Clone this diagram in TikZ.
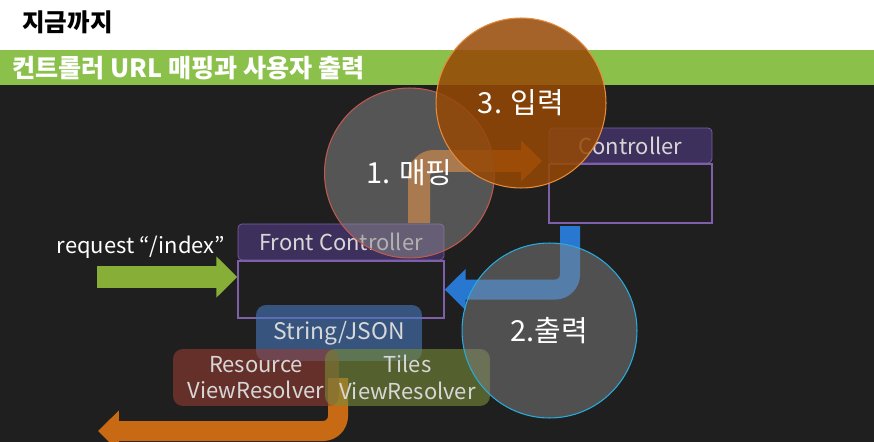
\documentclass[tikz,border=0pt]{standalone}
\usepackage{fontspec}
\setmainfont{Noto Sans CJK KR}
\usetikzlibrary{arrows.meta}
\definecolor{slidebg}{RGB}{31,31,31}
\definecolor{bandgreen}{RGB}{139,192,74}
\definecolor{boxfill}{RGB}{62,48,92}
\definecolor{boxline}{RGB}{125,95,170}
\definecolor{headtext}{RGB}{215,215,215}
\definecolor{reqgreen}{RGB}{135,175,55}
\definecolor{maporange}{RGB}{200,105,20}
\definecolor{outblue}{RGB}{40,120,210}
\definecolor{jsonblue}{RGB}{70,120,190}
\definecolor{resred}{RGB}{150,60,50}
\definecolor{tilesgreen}{RGB}{120,140,55}

\begin{document}
\begin{tikzpicture}[x=0.02cm, y=-0.02cm,
    every node/.style={inner sep=0pt, font=\fontsize{12.5}{15}\selectfont},
    boxhead/.style={draw=boxline, fill=boxfill, rounded corners=0.08cm, text=headtext},
    boxbody/.style={draw=boxline, line width=0.8pt},
    resolver/.style={rounded corners=0.2cm, fill opacity=0.6, text opacity=1, text=headtext,
      align=center, minimum width=3.32cm, minimum height=1.14cm},
    bubble/.style={circle, minimum size=3.4cm, line width=0.6pt, fill opacity=0.5, text opacity=1,
      text=white, font=\fontsize{16.5}{20}\selectfont},
    fat/.style={line width=0.42cm, rounded corners=0.3cm,
      -{Triangle[length=0.42cm, width=0.8cm]}}
  ]
  \useasboundingbox (0,0) rectangle (874,442);
  % Slide background
  \fill[white] (0,0) rectangle (874,50);
  \fill[bandgreen] (0,50) rectangle (874,85);
  \fill[slidebg] (0,85) rectangle (874,442);
  \node[font=\fontsize{14}{16}\selectfont\bfseries, anchor=west] (title) at (22,22) {지금까지};
  \node[font=\fontsize{14.3}{16}\selectfont\bfseries, text=white, anchor=west] (band) at (12,68) {컨트롤러 URL 매핑과 사용자 출력};

  % Boxes
  \node[boxhead, minimum width=3.26cm, minimum height=0.7cm] (ctrlHead) at (630.5,145.5) {Controller};
  \node[boxbody, minimum width=3.26cm, minimum height=1.18cm, anchor=north] (ctrlBody) at (ctrlHead.south) {};
  \node[boxhead, minimum width=4.12cm, minimum height=0.72cm] (fcHead) at (341,242) {Front Controller};
  \node[boxbody, minimum width=4.12cm, minimum height=1.14cm, anchor=north] (fcBody) at (fcHead.south) {};

  % Arrows
  \coordinate (reqFrom) at (97,277);
  \coordinate (mapFrom) at (419,223);
  \coordinate (mapTo) at (542,161);
  \coordinate (outFrom) at (570,226);
  \coordinate (viewFrom) at (338,378);
  \coordinate (viewTo) at (98,431);
  \draw[fat, reqgreen, line width=0.44cm, rounded corners=0pt] (reqFrom) -- (reqFrom -| fcBody.west);
  \draw[fat, maporange, line width=0.44cm] (mapFrom) |- (mapTo);
  \draw[fat, outblue, line width=0.4cm] (outFrom) |- (fcBody.east);
  \draw[fat, maporange, line width=0.4cm] (viewFrom) |- (viewTo);

  % Resolvers
  \node[resolver, fill=jsonblue, minimum height=1.12cm, font=\fontsize{13}{15}\selectfont] (json) at (339,333) {String/JSON};
  \node[resolver, fill=resred] (resource) at (256,377.5) {Resource\\ViewResolver};
  \node[resolver, fill=tilesgreen, minimum width=3.3cm] (tiles) at (407.5,377.5) {Tiles\\ViewResolver};

  % Steps
  \node[bubble, draw={rgb,255:red,190;green,90;blue,80}, fill={rgb,255:red,140;green,140;blue,140}] (mapping) at (409.5,173) {1. 매핑};
  \node[bubble, draw={rgb,255:red,40;green,170;blue,220}, fill={rgb,255:red,130;green,130;blue,130}, minimum size=3.5cm] (output) at (549.5,330.5) {2.출력};
  \node[bubble, draw={rgb,255:red,230;green,140;blue,60}, fill={rgb,255:red,150;green,72;blue,5}, fill opacity=0.85] (input) at (521,103) {3. 입력};

  \node[text=white] (reqLabel) at (141,247) {request “/index”};
\end{tikzpicture}
\end{document}
